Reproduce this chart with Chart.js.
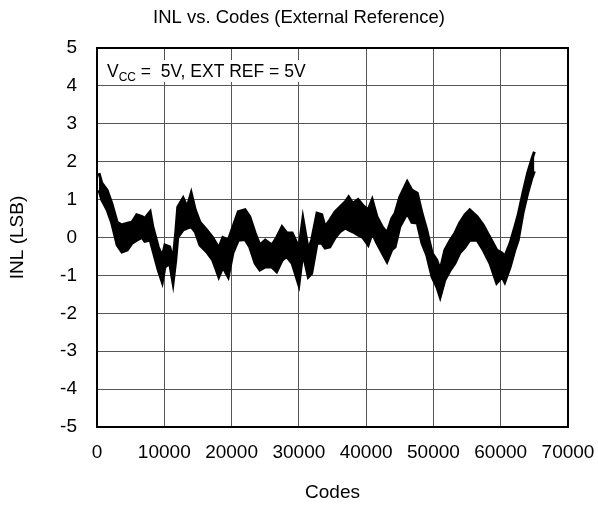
<!DOCTYPE html>
<html>
<head>
<meta charset="utf-8">
<script src="https://cdn.jsdelivr.net/npm/chart.js@4/dist/chart.umd.min.js"></script>
<style>
  html, body { margin: 0; padding: 0; background: #fff; }
  #wrap { width: 598px; height: 510px; }
</style>
</head>
<body>
<div id="wrap"><canvas id="inlChart" width="598" height="510"></canvas></div>
<script>
// codes (x) and INL band (upper / lower edge of the trace)
const codes = [300, 700, 1500, 2200, 3000, 3700, 4500, 5200, 5900, 6700, 7100, 7900, 8300, 9100, 9700,
  10100, 10800, 11300, 11700, 12000, 12800, 13400, 14000, 14600, 15300, 16300, 17200, 18100, 18700, 19500,
  20200, 21000, 22000, 22700, 23500, 24200, 25000, 26000, 26700, 27500, 28200, 29000, 29700, 30000, 30600,
  31400, 31900, 32700, 33400, 33900, 34600, 35400, 36100, 36900, 37400, 38000, 38800, 39500, 40300, 40900,
  41600, 42400, 43100, 43800, 44300, 45000, 46100, 46800, 47600, 48300, 49000, 49800, 50500, 51000, 51700,
  52500, 53200, 53900, 54700, 55400, 56500, 57400, 58400, 59400, 60200, 60600, 61400, 62100, 62600, 63300,
  64000, 64600, 65000];
const inlUpper = [1.7, 1.44, 1.25, 0.9, 0.4, 0.33, 0.38, 0.4, 0.6, 0.55, 0.5, 0.68, 0.28, -0.25, -0.5,
  -0.2, -0.25, -0.6, 0.12, 0.8, 1.04, 0.8, 1.17, 0.73, 0.4, 0.2, 0, -0.28, 0, -0.07,
  0.28, 0.68, 0.73, 0.55, 0.12, -0.2, -0.07, -0.2, 0, 0.28, 0.12, 0.12, -0.15, -0.3, 0.5,
  -0.33, -0.07, 0.64, 0.6, 0.28, 0.46, 0.68, 0.8, 0.94, 1.07, 0.9, 1.0, 0.85, 0.73, 1.0,
  0.55, 0.28, 0.12, 0.5, 0.64, 1.07, 1.47, 1.25, 1.17, 0.64, 0.2, -0.41, -0.6, -0.86, -0.33,
  -0.07, 0.12, 0.38, 0.6, 0.73, 0.55, 0.33, 0, -0.33, -0.41, -0.5, -0.15, 0.28, 0.6, 1.17,
  1.7, 2.05, 2.26];
const inlLower = [1.25, 1.0, 0.73, 0.38, -0.2, -0.38, -0.33, -0.15, -0.07, 0, -0.1, -0.07, -0.33, -0.86, -1.18,
  -0.78, -0.68, -1.2, -0.6, 0, 0.2, 0.25, 0.28, 0.15, -0.2, -0.38, -0.6, -1.04, -0.78, -1.04,
  -0.41, -0.07, -0.05, -0.25, -0.68, -0.86, -0.78, -0.78, -0.9, -0.6, -0.5, -0.68, -1.08, -1.25, -0.4,
  -1.04, -0.95, -0.15, -0.15, -0.28, -0.25, 0, 0.15, 0.25, 0.2, 0.15, 0.07, 0, -0.2, 0.12,
  -0.15, -0.41, -0.64, -0.33, -0.25, 0.28, 0.64, 0.4, 0.38, -0.15, -0.46, -1.04, -1.3, -1.57, -1.12,
  -0.86, -0.68, -0.41, -0.25, -0.07, -0.07, -0.33, -0.68, -1.2, -1.04, -1.18, -0.78, -0.33, -0.07, 0.64,
  1.17, 1.55, 1.75];

const xTicks = [0, 10000, 20000, 30000, 40000, 50000, 60000, 70000];
const yTicks = [-5, -4, -3, -2, -1, 0, 1, 2, 3, 4, 5];

const FONT = "'Liberation Sans', Arial, sans-serif";

// title centred on the canvas + the condition note in the top left corner
const annotations = {
  id: 'annotations',
  afterDraw(chart) {
    const { ctx, chartArea } = chart;
    ctx.save();
    ctx.fillStyle = '#000';
    ctx.font = '18.5px ' + FONT;
    ctx.textAlign = 'center';
    ctx.textBaseline = 'middle';
    ctx.fillText('INL vs. Codes (External Reference)', chart.width / 2, 18);

    const x0 = chartArea.left + 10, base = chartArea.top + 29;
    ctx.fillStyle = '#fff';
    ctx.fillRect(x0 - 3, chartArea.top + 12, 208, 22);
    ctx.fillStyle = '#000';
    ctx.textAlign = 'left';
    ctx.textBaseline = 'alphabetic';
    ctx.font = '17.5px ' + FONT;
    ctx.fillText('V', x0, base);
    let x = x0 + ctx.measureText('V').width;
    ctx.font = '12px ' + FONT;
    ctx.fillText('CC', x, base + 4);
    x += ctx.measureText('CC').width;
    ctx.font = '17.5px ' + FONT;
    ctx.fillText(' =  5V, EXT REF = 5V', x, base);
    ctx.restore();
  }
};

const frame = {
  id: 'frame',
  afterDatasetsDraw(chart) {
    const { ctx, chartArea: a } = chart;
    ctx.save();
    ctx.strokeStyle = '#000';
    ctx.lineWidth = 2;
    ctx.strokeRect(a.left, a.top, a.right - a.left, a.bottom - a.top);
    ctx.restore();
  }
};

new Chart(document.getElementById('inlChart'), {
  type: 'line',
  data: {
    datasets: [
      {
        label: 'INL max',
        data: codes.map((c, i) => ({ x: c, y: inlUpper[i] })),
        borderColor: '#000',
        backgroundColor: '#000',
        borderWidth: 3,
        pointRadius: 0,
        tension: 0,
        fill: '+1'
      },
      {
        label: 'INL min',
        data: codes.map((c, i) => ({ x: c, y: inlLower[i] })),
        borderColor: '#000',
        borderWidth: 3,
        pointRadius: 0,
        tension: 0,
        fill: false
      }
    ]
  },
  options: {
    responsive: false,
    animation: false,
    layout: { padding: { top: 48, right: 30, left: 0, bottom: 0 } },
    plugins: {
      legend: { display: false },
      title: { display: false },
      tooltip: { enabled: false }
    },
    scales: {
      x: {
        type: 'linear',
        min: 0,
        max: 70000,
        afterBuildTicks: s => { s.ticks = xTicks.map(v => ({ value: v })); },
        afterFit: s => { s.height = 83; s.paddingLeft = 0; s.paddingRight = 0; },
        grid: { color: '#555', lineWidth: 1, tickLength: 0, drawTicks: false },
        border: { display: false },
        ticks: { color: '#000', font: { family: FONT, size: 19 }, padding: 14, maxRotation: 0, autoSkip: false,
          callback: v => String(v) },
        title: { display: true, text: 'Codes', color: '#000', font: { family: FONT, size: 19 }, padding: { top: 0, bottom: 6 } }
      },
      y: {
        min: -5,
        max: 5,
        afterBuildTicks: s => { s.ticks = yTicks.map(v => ({ value: v })); },
        afterFit: s => { s.width = 97; },
        grid: { color: '#555', lineWidth: 1, tickLength: 0, drawTicks: false },
        border: { display: false },
        ticks: { color: '#000', font: { family: FONT, size: 19 }, padding: 20 },
        title: { display: true, text: 'INL (LSB)', color: '#000', font: { family: FONT, size: 19 }, padding: { top: 6, bottom: 0 } }
      }
    }
  },
  plugins: [frame, annotations]
});
</script>
</body>
</html>
